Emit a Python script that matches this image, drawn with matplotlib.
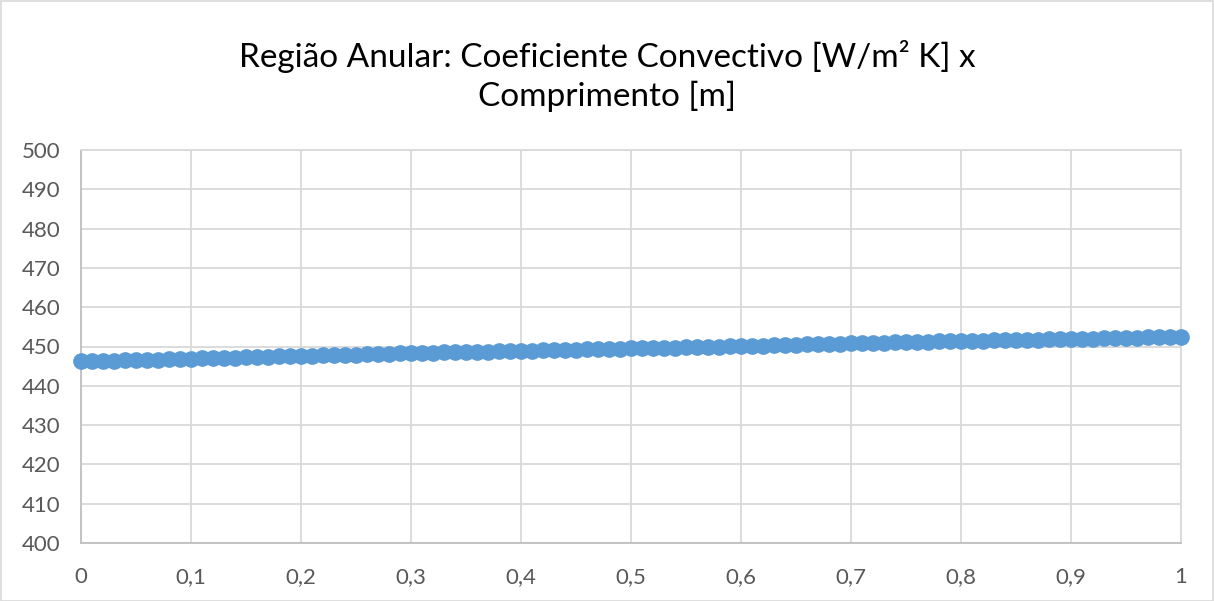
"""
plot.py
=======
Região anular: coeficiente convectivo ao longo do comprimento (estilo Excel).
"""

import matplotlib
matplotlib.use("Agg")
import matplotlib.pyplot as plt
from matplotlib.patches import Rectangle
from matplotlib.ticker import FuncFormatter, MultipleLocator

# ── dados ────────────────────────────────────────────────────────────────────
comprimento = [i / 100 for i in range(101)]  # posições [m], passo 0,01

h_conv = [
    446.20, 446.27, 446.34, 446.41, 446.48, 446.55, 446.62, 446.69, 446.76, 446.83,
    446.90, 446.97, 447.04, 447.11, 447.18, 447.25, 447.32, 447.39, 447.46, 447.53,
    447.60, 447.67, 447.74, 447.81, 447.88, 447.95, 448.02, 448.09, 448.16, 448.23,
    448.30, 448.36, 448.42, 448.48, 448.54, 448.60, 448.66, 448.72, 448.78, 448.84,
    448.90, 448.96, 449.02, 449.08, 449.14, 449.20, 449.26, 449.32, 449.38, 449.44,
    449.50, 449.56, 449.62, 449.68, 449.74, 449.80, 449.86, 449.92, 449.98, 450.04,
    450.10, 450.17, 450.24, 450.31, 450.38, 450.45, 450.52, 450.59, 450.66, 450.73,
    450.80, 450.86, 450.92, 450.98, 451.04, 451.10, 451.16, 451.22, 451.28, 451.34,
    451.40, 451.45, 451.50, 451.55, 451.60, 451.65, 451.70, 451.75, 451.80, 451.85,
    451.90, 451.96, 452.02, 452.08, 452.14, 452.20, 452.26, 452.32, 452.38, 452.44,
    452.50,
]

titulo = "Região Anular: Coeficiente Convectivo [W/m² K] x\nComprimento [m]"

AZUL  = "#5B9BD5"
GRADE = "#D9D9D9"
TEXTO = "#595959"

plt.rcParams["font.family"] = ["Lato", "DejaVu Sans"]

# ---------------------------------------------------------------------------
# Figura
# ---------------------------------------------------------------------------
fig = plt.figure(figsize=(12.14, 6.01), dpi=100)
W, H = 1214, 601
ax = fig.add_axes([81 / W, 1 - 543 / H, 1100 / W, 393 / H])

ax.plot(comprimento, h_conv, linestyle="none", marker="o",
        markersize=11, color=AZUL, zorder=3, clip_on=False)

ax.set_xlim(0, 1)
ax.set_ylim(400, 500)
ax.xaxis.set_major_locator(MultipleLocator(0.1))
ax.yaxis.set_major_locator(MultipleLocator(10))

virgula = FuncFormatter(lambda v, p: f"{v:.1f}".rstrip("0").rstrip(".").replace(".", ",") if v else "0")
ax.xaxis.set_major_formatter(virgula)
ax.yaxis.set_major_formatter(FuncFormatter(lambda v, p: f"{v:.0f}"))

ax.grid(True, color=GRADE, linewidth=1.3, zorder=0)
ax.set_axisbelow(True)
for lado in ("top", "right"):
    ax.spines[lado].set_color(GRADE)
    ax.spines[lado].set_linewidth(1.3)
for lado in ("left", "bottom"):
    ax.spines[lado].set_color("#BFBFBF")
    ax.spines[lado].set_linewidth(1.3)

ax.tick_params(length=0, labelsize=16, labelcolor=TEXTO)
ax.tick_params(axis="x", pad=17)
ax.tick_params(axis="y", pad=15)

fig.text(0.5, 1 - 76 / H, titulo, ha="center", va="center",
         fontsize=24, color="#000000", linespacing=1.3)

# borda da área do gráfico
fig.patches.append(Rectangle((0.5 / W, 0.5 / H), 1 - 1.5 / W, 1 - 1.5 / H,
                             transform=fig.transFigure, fill=False,
                             edgecolor=GRADE, linewidth=1.2))

fig.savefig("out.png", dpi=100)
plt.close(fig)
